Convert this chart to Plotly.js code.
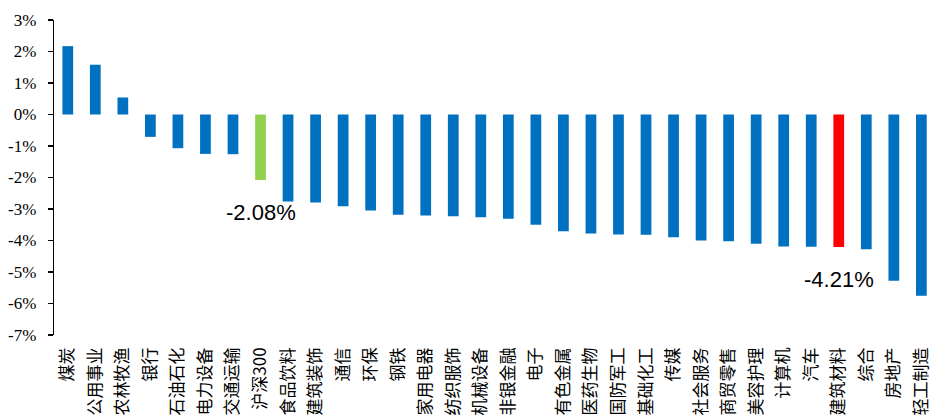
<!DOCTYPE html>
<html>
<head>
<meta charset="utf-8">
<script src="https://cdn.plot.ly/plotly-3.0.1.min.js"></script>
<style>html,body{margin:0;padding:0;background:#fff;}#chart{width:931px;height:419px;}</style>
</head>
<body>
<div id="chart"></div>
<script>
var categories = ["煤炭","公用事业","农林牧渔","银行","石油石化","电力设备","交通运输","沪深300","食品饮料","建筑装饰","通信","环保","钢铁","家用电器","纺织服饰","机械设备","非银金融","电子","有色金属","医药生物","国防军工","基础化工","传媒","社会服务","商贸零售","美容护理","计算机","汽车","建筑材料","综合","房地产","轻工制造"];
var values = [2.17,1.58,0.54,-0.71,-1.07,-1.25,-1.26,-2.08,-2.76,-2.79,-2.91,-3.05,-3.18,-3.21,-3.23,-3.26,-3.31,-3.50,-3.71,-3.78,-3.81,-3.82,-3.90,-4.00,-4.02,-4.10,-4.19,-4.20,-4.21,-4.28,-5.28,-5.75];
var yTicks = [3,2,1,0,-1,-2,-3,-4,-5,-6,-7];
var labelled = ["沪深300","建筑材料"];

var colors = categories.map(function(c){
  if (c === "沪深300") return "#92D050";
  if (c === "建筑材料") return "#FF0000";
  return "#0070C0";
});

var xRange = [-0.5, 31.35];

var trace = {
  type: "bar",
  x: categories,
  y: values,
  marker: {color: colors, line: {width: 0}},
  hoverinfo: "x+y"
};

var annotations = labelled.map(function(c){
  var i = categories.indexOf(c);
  return {
    x: c, y: values[i], xref: "x", yref: "y",
    text: values[i].toFixed(2) + "%",
    showarrow: false, yanchor: "top", xanchor: "center", yshift: -18,
    font: {family: "Liberation Sans, Arial, sans-serif", size: 22, color: "#000"}
  };
});

var layout = {
  width: 931, height: 419,
  margin: {l: 54, r: 0, t: 20, b: 84, pad: 0},
  paper_bgcolor: "#fff", plot_bgcolor: "#fff",
  showlegend: false,
  bargap: 0.61,
  xaxis: {
    type: "category", range: xRange,
    showline: false, ticks: "", showgrid: false, zeroline: false,
    tickangle: -90, ticklabelstandoff: 8,
    tickfont: {family: "Noto Sans CJK SC, sans-serif", size: 17, color: "#000"}
  },
  xaxis2: {
    type: "linear", overlaying: "x", anchor: "free", position: 0.7,
    range: xRange, tickmode: "linear", tick0: -0.5, dtick: 1,
    ticks: "inside", ticklen: 5, tickwidth: 1.3, tickcolor: "#000",
    showline: true, linecolor: "#000", linewidth: 1.3,
    showticklabels: false, showgrid: false, zeroline: false
  },
  yaxis: {
    range: [-7, 3], tickmode: "array", tickvals: yTicks,
    ticktext: yTicks.map(function(v){ return v + "%"; }),
    ticks: "outside", ticklen: 5, tickwidth: 1.3, tickcolor: "#000",
    showline: true, linecolor: "#000", linewidth: 1.3,
    showgrid: false, zeroline: false, ticklabelstandoff: 8,
    tickfont: {family: "Liberation Serif, Times New Roman, serif", size: 17, color: "#000"}
  },
  annotations: annotations
};

Plotly.newPlot("chart", [trace], layout, {displayModeBar: false, staticPlot: true});
</script>
</body>
</html>
